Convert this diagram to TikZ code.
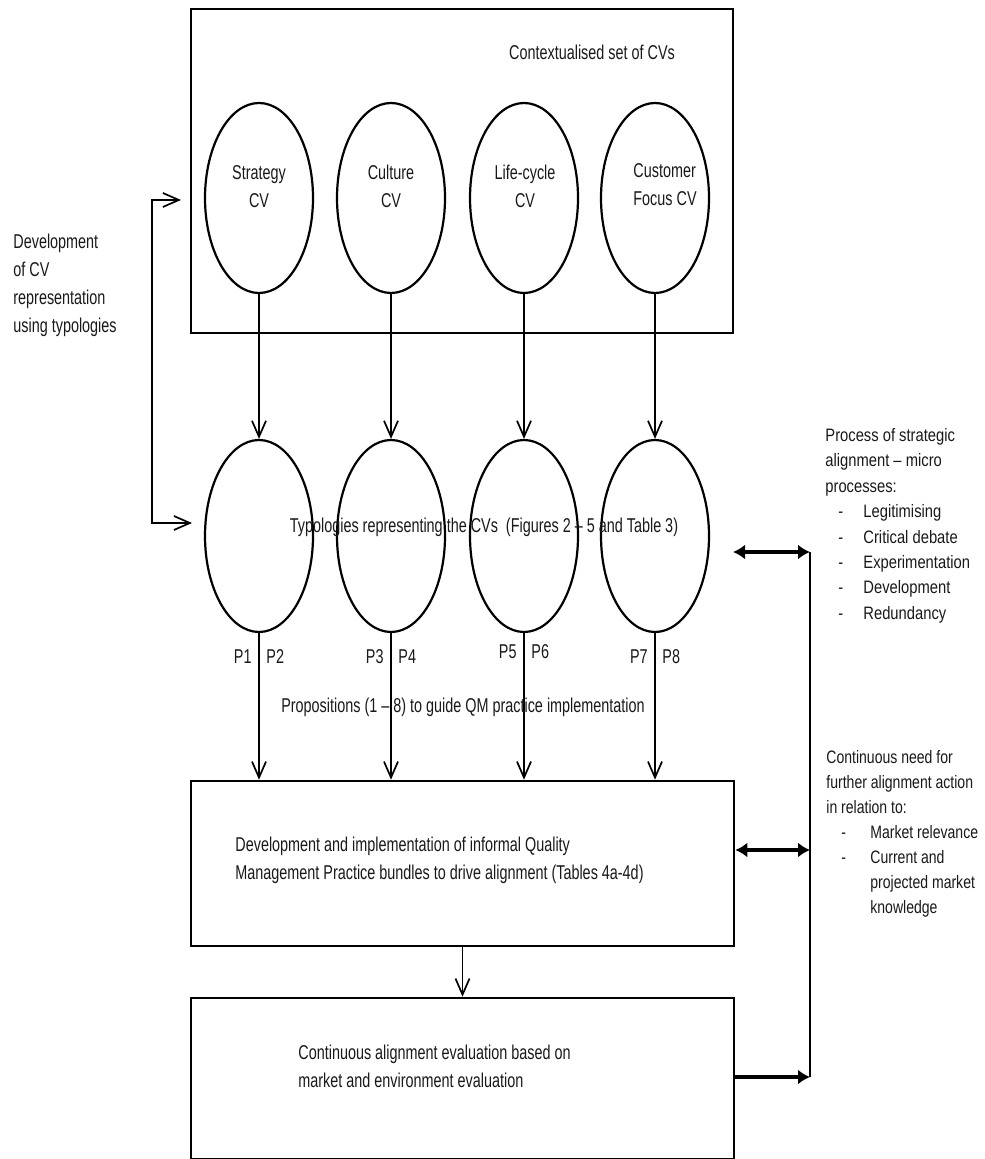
\documentclass[tikz,border=0pt]{standalone}
\usepackage{fontspec}
\setmainfont{Liberation Sans}[FakeStretch=0.72]
\newfontfamily\sidefont{Liberation Sans}[FakeStretch=0.82]
\newfontfamily\sidefontb{Liberation Sans}[FakeStretch=0.78]
\usetikzlibrary{arrows.meta,shapes.geometric}
\begin{document}
\begin{tikzpicture}[x=0.5pt,y=-0.5pt,
  every node/.style={font=\fontsize{10pt}{14pt}\selectfont, inner sep=0pt, text=black!90},
  sidetext/.style={font=\sidefont\fontsize{9pt}{12.7pt}\selectfont, align=left, anchor=north west, inner sep=0pt},
  sidetextb/.style={font=\sidefontb\fontsize{9pt}{12.5pt}\selectfont, align=left, anchor=north west, inner sep=0pt},
  bigbox/.style={draw, line width=1.3pt, rectangle},
  cvell/.style={draw, ellipse, line width=1.1pt, minimum width=54pt},
  barb/.style={line width=0.85pt, -{Straight Barb[length=8pt,width=7pt]}},
  dblarrow/.style={line width=1.8pt},
  mainline/.style={line width=0.8pt}
]
\useasboundingbox (0,0) rectangle (984,1159);

% top box
\node[bigbox, minimum width=271pt, minimum height=162pt] (ctx) at (462,171) {};
\node (ctxlabel) at (592,52) {Contextualised set of CVs};

% CV ellipses
\node[cvell, minimum height=95pt] (s1) at (259,198) {};
\node[cvell, minimum height=95pt] (s2) at (391,198) {};
\node[cvell, minimum height=95pt] (s3) at (524,198) {};
\node[cvell, minimum height=95pt] (s4) at (655,198) {};
\node[align=center, anchor=north] (s1t) at (259,165) {Strategy\\CV};
\node[align=center, anchor=north] (s2t) at (391,165) {Culture\\CV};
\node[align=center, anchor=north] (s3t) at (525,165) {Life-cycle\\CV};
\node[align=left, anchor=north] (s4t) at (665,163) {Customer\\Focus CV};

% typology ellipses
\node[cvell, minimum height=96pt] (t1) at (259,536) {};
\node[cvell, minimum height=96pt] (t2) at (391,536) {};
\node[cvell, minimum height=96pt] (t3) at (524,536) {};
\node[cvell, minimum height=96pt] (t4) at (655,536) {};

\foreach \i in {1,2,3,4}{
  \draw[barb] (s\i.south) -- (t\i.north);
}

\node (typo) at (484,527) {Typologies representing the CVs\ \ (Figures 2 – 5 and Table 3)};

% boxes
\node[bigbox, minimum width=271.5pt, minimum height=82.5pt] (box2) at (462.5,863.5) {};
\node[bigbox, minimum width=271.5pt, minimum height=80.5pt] (box3) at (462.5,1078.5) {};

\foreach \i in {1,2,3,4}{
  \draw[barb] (t\i.south) -- (t\i.south |- box2.north);
}

% proposition labels
\node[anchor=east] (p1) at (252,657) {P1};
\node[anchor=west] (p2) at (266,657) {P2};
\node[anchor=east] (p3) at (384,657) {P3};
\node[anchor=west] (p4) at (398,657) {P4};
\node[anchor=east] (p5) at (517,652) {P5};
\node[anchor=west] (p6) at (531,652) {P6};
\node[anchor=east] (p7) at (648,657) {P7};
\node[anchor=west] (p8) at (662,657) {P8};

\node (props) at (463,707) {Propositions (1 – 8) to guide QM practice implementation};

\node[align=left, anchor=north west] (box2t) at (235,837) {Development and implementation of informal Quality\\Management Practice bundles to drive alignment (Tables 4a-4d)};
\node[align=left, anchor=north west] (box3t) at (298,1045) {Continuous alignment evaluation based on\\market and environment evaluation};

\draw[barb] (box2.south) -- (box3.north);

% left feedback connector
\node[align=left, anchor=north west] (devtext) at (13,234) {Development\\of CV\\representation\\using typologies};
\coordinate (la1) at (181,200);
\coordinate (lc1) at (152,200);
\coordinate (lc2) at (152,523);
\coordinate (la2) at (192,523);
\draw[line width=0.85pt, {Straight Barb[length=8pt,width=7pt]}-{Straight Barb[length=8pt,width=7pt]}] (la1) -- (lc1) -- (lc2) -- (la2);

% right connectors
\coordinate (rtop) at (810,552);
\coordinate (ltop) at (733,552);
\coordinate (rmid) at (810,850);
\coordinate (rbot) at (810,1077);
\draw[mainline] (rtop) -- (rbot);
\draw[dblarrow, {Latex[length=6pt,width=7.5pt]}-{Latex[length=6pt,width=7.5pt]}] (ltop) -- (rtop);
\draw[dblarrow, {Latex[length=6pt,width=7.5pt]}-{Latex[length=6pt,width=7.5pt]}] (box2.east |- rmid) -- (rmid);
\draw[dblarrow, -{Latex[length=6pt,width=7.5pt]}] (box3.east |- rbot) -- (rbot);

% side texts
\node[sidetext] (side1) at (825,428) {Process of strategic\\alignment – micro\\processes:\\
\hspace*{6.5pt}\makebox[12.5pt][l]{-}Legitimising\\
\hspace*{6.5pt}\makebox[12.5pt][l]{-}Critical debate\\
\hspace*{6.5pt}\makebox[12.5pt][l]{-}Experimentation\\
\hspace*{6.5pt}\makebox[12.5pt][l]{-}Development\\
\hspace*{6.5pt}\makebox[12.5pt][l]{-}Redundancy};
\node[sidetextb] (side2) at (826,750) {Continuous need for\\further alignment action\\in relation to:\\
\hspace*{7.5pt}\makebox[14.5pt][l]{-}Market relevance\\
\hspace*{7.5pt}\makebox[14.5pt][l]{-}Current and\\
\hspace*{22pt}projected market\\
\hspace*{22pt}knowledge};
\end{tikzpicture}
\end{document}
